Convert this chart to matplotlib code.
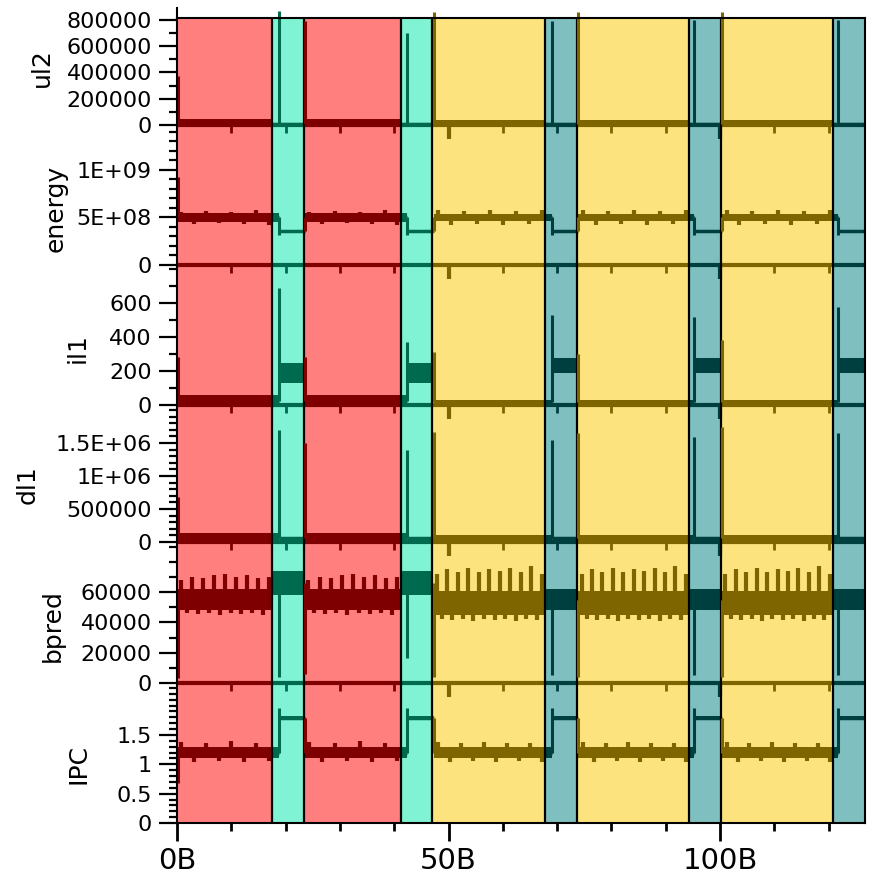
import matplotlib.pyplot as plt
import numpy as np

plt.rcParams['font.family'] = 'DejaVu Sans'

# phases along the run (billions of instructions)
phase_start = [0, 17.5, 23.4, 41.2, 47.0, 67.8, 73.7, 94.3, 100.2, 120.8]
x_max = 126.7
phase_kind = ['A', 'B', 'A', 'B', 'C', 'D', 'C', 'D', 'C', 'D']
# x of the transient at the start of each phase
spike_x = [0.2, 18.8, 23.6, 42.4, 47.3, 69.0, 73.9, 95.2, 100.4, 121.8]

fill_col = {'A': '#ff7f7f', 'B': '#7ff3d3', 'C': '#fde37d', 'D': '#7fbfbf'}
line_col = {'A': '#7f0000', 'B': '#006a4f', 'C': '#7f6500', 'D': '#003f3f'}

names = ['ul2', 'energy', 'il1', 'dl1', 'bpred', 'IPC']
y_max = [815000, 1.47e9, 824, 2.076e6, 93000, 2.385]
y_ticks = [[0, 200000, 400000, 600000, 800000], [0, 5e8, 1e9], [0, 200, 400, 600],
           [0, 5e5, 1e6, 1.5e6], [0, 20000, 40000, 60000], [0, 0.5, 1, 1.5]]
y_ticklabels = [['0', '200000', '400000', '600000', '800000'], ['0', '5E+08', '1E+09'],
                ['0', '200', '400', '600'], ['0', '500000', '1E+06', '1.5E+06'],
                ['0', '20000', '40000', '60000'], ['0', '0.5', '1', '1.5']]
y_minor = [100000, 1e8, 100, 1e5, 10000, 0.1]

# noise band (low / high) per phase and value of the transient spike
ul2_low = [0, 0, 0, 0, 0, 0, 0, 0, 0, 0]
ul2_high = [45000, 15000, 45000, 15000, 40000, 15000, 40000, 15000, 40000, 15000]
ul2_spike = [370000, 870000, 790000, 700000, 860000, 790000, 860000, 800000, 860000, 800000]

energy_low = [4.5e8, 3.45e8, 4.5e8, 3.45e8, 4.6e8, 3.45e8, 4.6e8, 3.45e8, 4.6e8, 3.45e8]
energy_high = [5.5e8, 3.65e8, 5.5e8, 3.65e8, 5.4e8, 3.65e8, 5.4e8, 3.65e8, 5.4e8, 3.65e8]
energy_spike = [9.2e8, 3.2e8, None, 3.2e8, None, 3.2e8, None, 3.2e8, None, 3.2e8]

il1_low = [-10, 130, -10, 130, 0, 190, 0, 190, 0, 190]
il1_high = [60, 250, 60, 250, 30, 275, 30, 275, 30, 275]
il1_spike = [280, 690, 280, 370, 310, 530, 300, 520, 380, 575]

dl1_low = [0, 40000, 0, 40000, 0, 40000, 0, 40000, 0, 40000]
dl1_high = [130000, 75000, 130000, 75000, 110000, 75000, 110000, 75000, 110000, 75000]
dl1_spike = [680000, 1.70e6, 1.5e6, 1.39e6, 1.67e6, 1.55e6, 1.65e6, 1.59e6, 1.75e6, 1.65e6]

bpred_low = [48000, 58000, 48000, 58000, 45000, 48000, 45000, 48000, 45000, 48000]
bpred_high = [62000, 74000, 62000, 74000, 61000, 62000, 61000, 62000, 61000, 62000]
bpred_spike = [3000, 4000, 6000, 16500, 4000, 5300, 4000, 5300, 4000, 5300]

IPC_low = [1.11, 1.75, 1.11, 1.75, 1.11, 1.75, 1.11, 1.75, 1.11, 1.75]
IPC_high = [1.29, 1.82, 1.29, 1.82, 1.29, 1.82, 1.29, 1.82, 1.29, 1.82]
IPC_spike = [0.68, 1.96, None, 1.96, None, 1.96, None, 1.96, None, 1.96]

# bumps on the steady phases
energy_teeth = {'A': [5.6e8, 4.3e8, 5.7e8, 4.4e8, 5.6e8, 4.3e8, 5.8e8, 4.2e8],
                'C': [5.8e8, 4.2e8, 5.7e8, 4.3e8, 5.8e8, 4.2e8, 5.7e8, 4.3e8, 5.8e8]}
bpred_teeth = {'A': [68000, 46000, 70000, 45500, 69000, 46000, 71000, 45000, 72000,
                     46000, 70000, 45500, 71000, 46000, 69000, 45000, 70000],
               'C': [72000, 42000, 75000, 41500, 73000, 42000, 76000, 41000, 73000, 42000,
                     75000, 41500, 74000, 42000, 76000, 41000, 73000, 42000, 77000, 41500, 72000]}
IPC_teeth = {'A': [1.38, 1.04, 1.37, 1.05, 1.39, 1.04, 1.36, 1.05],
             'C': [1.38, 1.04, 1.37, 1.05, 1.38, 1.04, 1.36, 1.05, 1.37, 1.04]}

tracks = [(ul2_low, ul2_high, ul2_spike, None, False),
          (energy_low, energy_high, energy_spike, energy_teeth, True),
          (il1_low, il1_high, il1_spike, None, True),
          (dl1_low, dl1_high, dl1_spike, None, True),
          (bpred_low, bpred_high, bpred_spike, bpred_teeth, False),
          (IPC_low, IPC_high, IPC_spike, IPC_teeth, True)]

# layout in pixels
W, H = 870, 873
left_px, right_px = 177, 865
top_px = [18, 125, 265, 405, 542, 683]
zero_px = [125, 265, 405, 542, 683, 823]
label_pos = [(42, 68), (56, 208), (78, 348), (28, 485), (53, 626), (79, 764)]

fig = plt.figure(figsize=(W / 100, H / 100), dpi=100)
box = [left_px / W, 1 - 823 / H, (right_px - left_px) / W, (823 - 18) / H]

bg = fig.add_axes(box, zorder=0)
bg.set_xlim(0, x_max)
bg.set_ylim(0, 1)
bg.axis('off')
n = len(phase_start)
for k in range(n):
    e = phase_start[k + 1] if k < n - 1 else x_max
    bg.axvspan(phase_start[k], e, color=fill_col[phase_kind[k]], lw=0)

track_axes = []
for i, name in enumerate(names):
    ax = fig.add_axes([left_px / W, 1 - zero_px[i] / H, (right_px - left_px) / W,
                       (zero_px[i] - top_px[i]) / H], zorder=1)
    track_axes.append(ax)
    ax.set_xlim(0, x_max)
    ax.set_ylim(0, y_max[i])
    ax.patch.set_visible(False)
    for sp in ax.spines.values():
        sp.set_visible(False)
    dpp = y_max[i] / (zero_px[i] - top_px[i])
    low, high, spike, teeth, lag = tracks[i]

    # baseline with small dips every 10B
    if i < 5:
        for k in range(n):
            e = phase_start[k + 1] if k < n - 1 else x_max
            ax.plot([phase_start[k], e], [0, 0], color=line_col[phase_kind[k]], lw=3,
                    solid_capstyle='butt', clip_on=False)
        for xt in range(10, 121, 10):
            kk = max(j for j in range(n) if phase_start[j] <= xt)
            big = xt in (50, 100)
            ax.plot([xt, xt], [0, -(14 if big else 8) * dpp], color=line_col[phase_kind[kk]],
                    lw=3 if big else 2, solid_capstyle='butt', clip_on=False)

    # noise bands
    for k in range(n):
        kind = phase_kind[k]
        c = line_col[kind]
        s = phase_start[k]
        e = phase_start[k + 1] if k < n - 1 else x_max
        b0 = spike_x[k] if (lag and k > 0) else s
        mid = (low[k] + high[k]) / 2
        if lag and k > 0:
            pm = (low[k - 1] + high[k - 1]) / 2
            ax.fill_between([s, b0], low[k - 1], high[k - 1], color=c, lw=0, clip_on=False)
            ax.plot([s, b0], [pm, pm], color=c, lw=2.5, solid_capstyle='butt', clip_on=False)
        ax.fill_between([b0, e], low[k], high[k], color=c, lw=0, clip_on=False)
        ax.plot([b0, e], [mid, mid], color=c, lw=2.5, solid_capstyle='butt', clip_on=False)
        if teeth is not None and kind in teeth:
            pos = np.linspace(b0 + 0.8, e - 0.6, len(teeth[kind]))
            ax.vlines(pos, mid, teeth[kind], colors=c, lw=3, clip_on=False)

    ax.set_yticks(y_ticks[i])
    ax.set_yticklabels(y_ticklabels[i], fontsize=16)
    ax.set_yticks(np.arange(0, y_max[i], y_minor[i]), minor=True)
    ax.tick_params(axis='y', which='major', direction='out', length=13, width=1.6, pad=5)
    ax.tick_params(axis='y', which='minor', direction='out', length=6, width=1.6)
    ax.tick_params(axis='x', which='both', bottom=False, labelbottom=False)
    fig.text(label_pos[i][0] / W, 1 - label_pos[i][1] / H, name, rotation=90,
             ha='center', va='center', fontsize=18)

# frame, phase boundaries and x axis on top
ov = fig.add_axes(box, zorder=2)
ov.patch.set_visible(False)
for sp in ov.spines.values():
    sp.set_linewidth(1.5)
for xb in phase_start[1:]:
    ov.axvline(xb, color='black', lw=1.6)

# transients at the start of each phase, in each track's data coordinates
for i, ax in enumerate(track_axes):
    low, high, spike, teeth, lag = tracks[i]
    for k in range(n):
        c = line_col[phase_kind[k]]
        mid = (low[k] + high[k]) / 2
        pm = (low[k - 1] + high[k - 1]) / 2 if k > 0 else mid
        vals = [pm, mid]
        if spike[k] is not None:
            vals.append(spike[k])
        ov.plot([spike_x[k], spike_x[k]], [min(vals), max(vals)], color=c, lw=2.2,
                solid_capstyle='butt', transform=ax.transData, clip_on=False)

ov.plot([0, 0], [1, 1.013], color='black', lw=1.5, clip_on=False)
ov.set_xlim(0, x_max)
ov.set_ylim(0, 1)
ov.set_yticks([])
ov.set_xticks([0, 50, 100])
ov.set_xticklabels(['0B', '50B', '100B'], fontsize=21)
ov.set_xticks(np.arange(0, 121, 10), minor=True)
ov.tick_params(axis='x', which='major', direction='out', length=13, width=2, pad=4)
ov.tick_params(axis='x', which='minor', direction='out', length=6, width=2)

fig.savefig('out.png', dpi=100)
